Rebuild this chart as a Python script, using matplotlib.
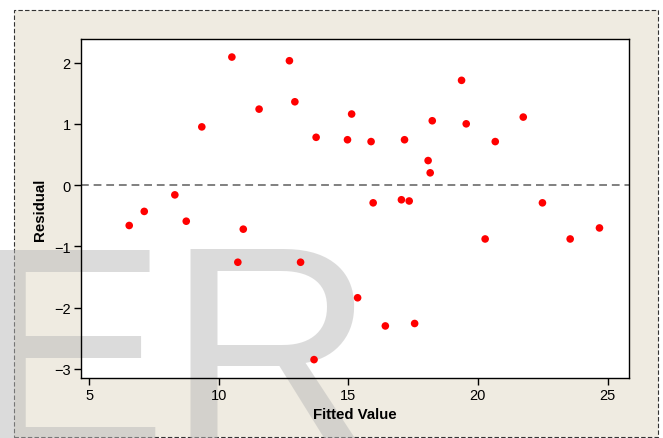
import numpy as np
import matplotlib
matplotlib.use("Agg")
import matplotlib.pyplot as plt
from matplotlib.patches import Rectangle

# fitted values and residuals
fitted = [6.55, 7.13, 8.31, 8.75, 9.35, 10.51, 10.74, 10.95, 11.56, 12.73,
          12.94, 13.16, 13.68, 13.76, 14.97, 15.13, 15.36, 15.88, 15.96, 16.43,
          17.05, 17.17, 17.35, 17.56, 18.08, 18.16, 18.24, 19.37, 19.55, 20.28,
          20.67, 21.75, 22.49, 23.56, 24.69]
residual = [-0.66, -0.43, -0.16, -0.59, 0.95, 2.09, -1.26, -0.72, 1.24, 2.03,
            1.36, -1.26, -2.85, 0.78, 0.74, 1.16, -1.84, 0.71, -0.29, -2.30,
            -0.24, 0.74, -0.26, -2.26, 0.40, 0.20, 1.05, 1.71, 1.00, -0.88,
            0.71, 1.11, -0.29, -0.88, -0.70]

xticks = [5, 10, 15, 20, 25]
yticks = [-3, -2, -1, 0, 1, 2]

W, H = 663, 439
fig = plt.figure(figsize=(W / 100, H / 100), dpi=100)
fig.patch.set_facecolor("white")

# beige panel with dashed border
panel = Rectangle((14 / W, 1.5 / H), 644 / W, 426.5 / H, transform=fig.transFigure,
                  facecolor="#efebe1", edgecolor="#333333", linewidth=0.8,
                  linestyle=(0, (4, 2)), zorder=-10)
fig.patches.append(panel)

ax = fig.add_axes([81 / W, 1 - 379 / H, (628.5 - 81) / W, (379 - 40.3) / H])
ax.set_facecolor("white")

ax.axhline(0, color="#808080", linestyle=(0, (4, 2.5)), linewidth=1.4, zorder=2)
ax.scatter(fitted, residual, s=30, color="#ff0000", edgecolors="none", zorder=3)

ax.set_xlim(4.69, 25.81)
ax.set_ylim(-3.15, 2.38)
ax.set_xticks(xticks)
ax.set_yticks(yticks)
ax.tick_params(direction="out", length=5, width=1, labelsize=10.5,
               colors="black", pad=2.5)
for lab in ax.get_xticklabels() + ax.get_yticklabels():
    lab.set_family("Liberation Sans")
for sp in ax.spines.values():
    sp.set_linewidth(1.0)
    sp.set_color("black")

ax.set_xlabel("Fitted Value", fontsize=10.8, fontweight="bold",
              family="Liberation Sans", labelpad=3)
ax.set_ylabel("Residual", fontsize=10.8, fontweight="bold",
              family="Liberation Sans", labelpad=5)

# watermark
ax.text(-26 / W, -10 / H, "ER", transform=fig.transFigure, family="Liberation Sans",
        fontsize=208, color="#b9b9b9", alpha=0.5, ha="left", va="baseline",
        clip_on=False, zorder=1)

fig.savefig("out.png", dpi=100, facecolor=fig.get_facecolor())
